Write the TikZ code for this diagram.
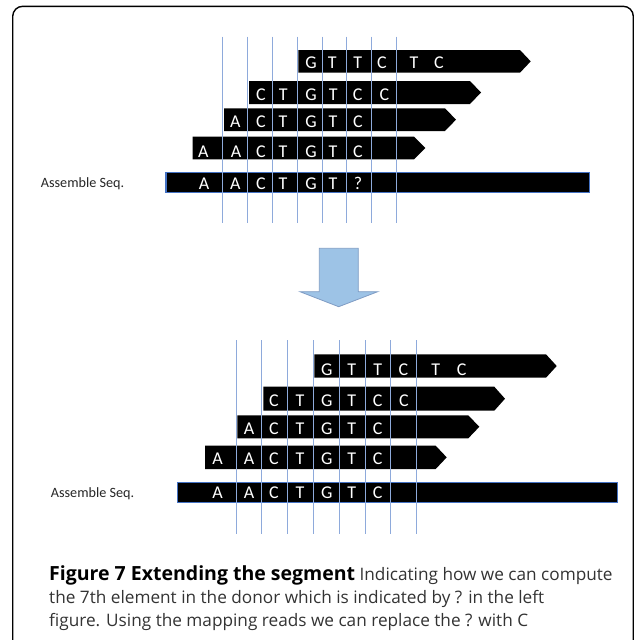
\documentclass[tikz,border=0pt]{standalone}
\usepackage{fontspec}
\setmainfont{Open Sans}
\newfontfamily\carlito{Carlito}
\definecolor{gridblue}{HTML}{8EAADB}
\definecolor{seqblue}{HTML}{4472C4}
\definecolor{arrowfill}{HTML}{9DC3E6}
\definecolor{arrowline}{HTML}{7F9CC4}
\definecolor{captxt}{HTML}{333333}
\newcommand\readbar[5]{%
  \fill[black] (#1,#4) -- (#2,#4) -- (#3,{(#4+#5)/2}) -- (#2,#5) -- (#1,#5) -- cycle;}
\newcommand\capbold[1]{{\fontsize{19.5}{19.5}\selectfont\bfseries\color{black}#1}}
\tikzset{
  base/.style={inner sep=0pt, text=white, font=\carlito\fontsize{18}{18}\selectfont, text height=11.6pt, text depth=0pt},
  gridline/.style={draw=gridblue, line width=0.9pt},
  seqbar/.style={fill=black, draw=seqblue, line width=1.4pt},
  seqlabel/.style={anchor=west, inner sep=0pt, text=black!85, font=\carlito\fontsize{14.2}{14.2}\selectfont},
  capline/.style={anchor=base west, inner sep=0pt, text=captxt, font=\fontsize{17.2}{17.2}\selectfont},
  bigarrow/.style={fill=arrowfill, draw=arrowline, line width=0.8pt},
  frame/.style={draw=black, line width=1.4pt, rounded corners=10pt}
}
\begin{document}
\begin{tikzpicture}[x=1pt,y=-1pt]
\useasboundingbox (0,0) rectangle (634,640);
\begin{scope}
\clip (0,0) rectangle (634,640);
\draw[frame] (12.7,6.3) rectangle (633.3,680);
\end{scope}

% ---------- top panel ----------
\readbar{298.3}{520}{530.7}{50}{72.7}
\readbar{249}{470}{481}{81}{104}
\readbar{224}{445}{456}{108.3}{131}
\readbar{192.7}{414}{425.3}{136.7}{159.3}
\draw[seqbar] (166,172.7) rectangle (589.3,192.7);
\node[seqlabel] (lab1) at (40.7,184) {Assemble Seq.};
\foreach \x/\l [count=\i] in {311/G,332.3/T,357.7/T,382/C,414/T,439/C}
  \node[base] (a1-\i) at (\x,63) {\l};
\foreach \x/\l [count=\i] in {261/C,283.3/T,311/G,333.3/T,357.7/C,384.3/C}
  \node[base] (a2-\i) at (\x,94.5) {\l};
\foreach \x/\l [count=\i] in {235.3/A,261/C,283/T,311/G,333/T,358/C}
  \node[base] (a3-\i) at (\x,121.5) {\l};
\foreach \x/\l [count=\i] in {203.3/A,236/A,261/C,283/T,311/G,333/T,358/C}
  \node[base] (a4-\i) at (\x,151.2) {\l};
\foreach \x/\l [count=\i] in {204/A,235.3/A,261/C,283/T,311/G,333/T,358/?}
  \node[base] (a5-\i) at (\x,183.3) {\l};
\foreach \x [count=\i] in {222.7,247.3,272.3,297,322,346.7,371.7,396.7}
  \draw[gridline] (\x,36.7) -- (\x,222.7);

% ---------- arrow ----------
\draw[bigarrow] (319.3,248.3) -- (358.3,248.3) -- (358.3,291.7) -- (377.7,291.7)
  -- (338.7,306.7) -- (300,291.7) -- (319.3,291.7) -- cycle;

% ---------- bottom panel ----------
\readbar{314.3}{546}{556.7}{354.3}{377.7}
\readbar{263.3}{494.3}{505}{386.7}{410.7}
\readbar{237.3}{468.3}{479.3}{415.3}{438.3}
\readbar{205}{435.7}{446.7}{445.7}{469}
\draw[seqbar] (177.3,482.7) rectangle (617.7,502.7);
\node[seqlabel] (lab2) at (50.7,493.3) {Assemble Seq.};
\foreach \x/\l [count=\i] in {326.7/G,351.7/T,377.7/T,403.3/C,435.7/T,461.7/C}
  \node[base] (b1-\i) at (\x,369.5) {\l};
\foreach \x/\l [count=\i] in {274/C,300/T,326.7/G,351.7/T,377.7/C,404/C}
  \node[base] (b2-\i) at (\x,401) {\l};
\foreach \x/\l [count=\i] in {249/A,274/C,300/T,326.7/G,351.7/T,377.7/C}
  \node[base] (b3-\i) at (\x,429) {\l};
\foreach \x/\l [count=\i] in {217.7/A,249/A,274/C,300/T,326.7/G,351.7/T,377.7/C}
  \node[base] (b4-\i) at (\x,459) {\l};
\foreach \x/\l [count=\i] in {217.7/A,249/A,274/C,300/T,326.7/G,351.7/T,377.7/C}
  \node[base] (b5-\i) at (\x,492.7) {\l};
\foreach \x [count=\i] in {236,261.7,287.7,313.3,339.3,365,390.7,416.7}
  \draw[gridline] (\x,340) -- (\x,534);

% ---------- caption ----------
\node[capline] (cap1) at (49,580) {\capbold{Figure 7 Extending the segment} Indicating how we can compute};
\node[capline] (cap2) at (49,603.3) {the 7th element in the donor which is indicated by ? in the left};
\node[capline] (cap3) at (49,626.7) {figure. Using the mapping reads we can replace the ? with C};
\end{tikzpicture}
\end{document}
